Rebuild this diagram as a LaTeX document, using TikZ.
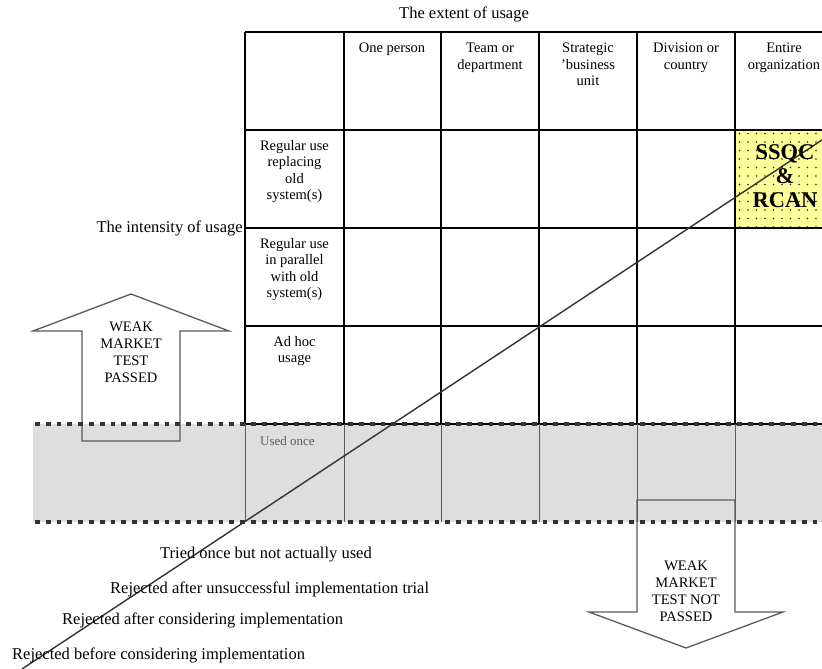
\documentclass[tikz,border=0pt]{standalone}
\usepackage{fontspec}
\setmainfont{Liberation Serif}
\usetikzlibrary{patterns.meta}
\definecolor{bandgray}{HTML}{DEDEDE}
\definecolor{cellyellow}{HTML}{FFFF99}
\definecolor{edgegray}{HTML}{5A5A5A}

\begin{document}
\begin{tikzpicture}[x=1pt, y=-1pt,
  hd/.style={font=\fontsize{14.5}{16.5}\selectfont, align=center, anchor=north, inner sep=0pt},
  lbl/.style={font=\fontsize{16.5}{18}\selectfont, inner sep=0pt},
  tag/.style={font=\fontsize{14.5}{17}\selectfont, align=center, inner sep=0pt},
  arr/.style={draw=edgegray, line width=1.3pt, line join=miter},
  grid/.style={line width=1.3pt},
  sep/.style={line width=4pt, dash pattern=on 4.8pt off 6pt, draw=black!80}
]
\useasboundingbox (0,0) rectangle (822,669);

% grey band and the filled cell
\fill[bandgray] (33,424) rectangle (822,522);
\fill[cellyellow] (735,130) rectangle (835,228);
\fill[pattern={Dots[distance=8.5pt, radius=0.85pt]}, pattern color=black!85] (735,130) rectangle (835,228);

% table
\foreach \x in {245,344,441,539,637,735} \draw[grid] (\x,32) -- (\x,424);
\foreach \y in {32,130,228,326,424} \draw[grid] (245,\y) -- (822,\y);
\foreach \x in {245,344,441,539,637,735} \draw[line width=0.8pt, edgegray] (\x,424) -- (\x,522);

% arrows
\draw[arr] (82,441) -- (82,331) -- (33,331) -- (131,294) -- (229,331) -- (180,331) -- (180,441) -- cycle;
\draw[arr] (637,500) -- (735,500) -- (735,612) -- (783,612) -- (686,648) -- (589,612) -- (637,612) -- cycle;

% dotted limits
\draw[sep] (35,424) -- (822,424);
\draw[sep] (35,522) -- (822,522);

% diagonal
\coordinate (lo) at (22,669);
\coordinate (hi) at (822,140);
\draw[line width=1.4pt, black!80] (lo) -- (hi);

% texts
\node[lbl] (ext) at (464,14) {The extent of usage};
\node[lbl, anchor=east] (int) at (243,228) {The intensity of usage};

\node[hd] (c1) at (392,43) {One person};
\node[hd] (c2) at (490,43) {Team or\\department};
\node[hd] (c3) at (588,43) {Strategic\\'business\\unit};
\node[hd] (c4) at (686,43) {Division or\\country};
\node[hd] (c5) at (784,43) {Entire\\organization};

\node[hd] (r1) at (294.5,140) {Regular use\\replacing\\old\\system(s)};
\node[hd] (r2) at (294.5,238) {Regular use\\in parallel\\with old\\system(s)};
\node[hd] (r3) at (294.5,336) {Ad hoc\\usage};
\node[font=\fontsize{13}{15}\selectfont, text=edgegray, anchor=west, inner sep=0pt] (once) at (260,441) {Used once};

\node[font=\fontsize{22.5}{24}\selectfont\bfseries, align=center, inner sep=0pt] (ssqc) at (785,176) {SSQC\\\&\\RCAN};

\node[tag] (pass) at (131,352) {WEAK\\MARKET\\TEST\\PASSED};
\node[tag] (fail) at (686,591) {WEAK\\MARKET\\TEST NOT\\PASSED};

\node[lbl, anchor=west] (t1) at (160,555) {Tried once but not actually used};
\node[lbl, anchor=west] (t2) at (110,589) {Rejected after unsuccessful implementation trial};
\node[lbl, anchor=west] (t3) at (62,620) {Rejected after considering implementation};
\node[lbl, anchor=west] (t4) at (12,655) {Rejected before considering implementation};
\end{tikzpicture}
\end{document}
